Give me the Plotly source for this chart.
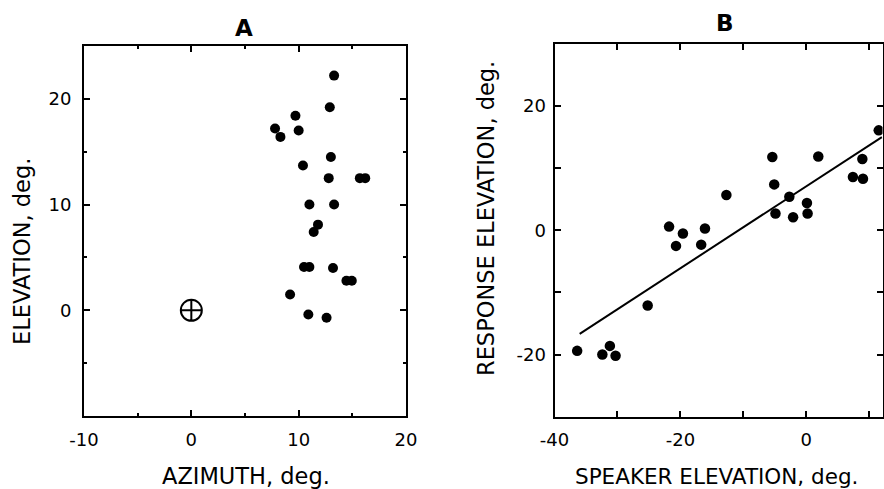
import plotly.graph_objects as go

# ---- Panel A data: response positions (azimuth, elevation) ----
a_azimuth = [13.3, 12.9, 9.7, 7.8, 8.3, 10.0, 13.0, 10.4, 12.8, 15.7, 16.2, 11.0, 13.3,
             11.8, 11.4, 10.5, 11.0, 13.2, 14.45, 14.95, 9.2, 10.9, 12.6]
a_elevation = [22.2, 19.2, 18.4, 17.2, 16.4, 17.0, 14.5, 13.7, 12.5, 12.5, 12.5, 10.0, 10.0,
               8.1, 7.4, 4.1, 4.1, 4.0, 2.8, 2.8, 1.5, -0.4, -0.7]
a_target_x = [0]
a_target_y = [0]

# ---- Panel B data: speaker elevation vs response elevation ----
b_speaker = [-36.4, -32.4, -31.2, -30.3, -25.2, -21.8, -20.7, -19.6, -16.7, -16.1, -12.7,
             -5.4, -5.1, -4.9, -2.7, -2.1, 0.1, 0.2, 1.9, 7.4, 8.9, 9.0, 11.5]
b_response = [-19.4, -20.0, -18.6, -20.2, -12.1, 0.6, -2.5, -0.5, -2.3, 0.3, 5.7,
              11.8, 7.4, 2.7, 5.4, 2.1, 4.4, 2.7, 11.9, 8.6, 11.5, 8.3, 16.1]
fit_slope = 0.66
fit_intercept = 7.1
fit_x = [-36.0, 12.0]
fit_y = [fit_slope * v + fit_intercept for v in fit_x]

# ---- tick labels ----
a_xticks = [-10, 0, 10, 20]
a_xtext = ["-10", "0", "10", "20"]
a_yticks = [0, 10, 20]
a_ytext = ["0", "10", "20"]
b_xticks = [-40, -30, -20, -10, 0, 10]
b_xtext = ["-40", "", "-20", "", "0", ""]
b_yticks = [-20, -10, 0, 10, 20]
b_ytext = ["-20", "", "0", "", "20"]

FONT = "DejaVu Sans"
TICKFONT = dict(family=FONT, size=18, color="black")

fig = go.Figure()
fig.add_trace(go.Scatter(x=a_azimuth, y=a_elevation, mode="markers",
                         marker=dict(size=10, color="black"), xaxis="x", yaxis="y",
                         showlegend=False))
fig.add_trace(go.Scatter(x=a_target_x, y=a_target_y, mode="markers",
                         marker=dict(size=21, symbol="circle-cross-open", color="black",
                                     line=dict(width=2, color="black")),
                         xaxis="x", yaxis="y", showlegend=False))
fig.add_trace(go.Scatter(x=fit_x, y=fit_y, mode="lines", line=dict(color="black", width=2),
                         xaxis="x2", yaxis="y2", showlegend=False))
fig.add_trace(go.Scatter(x=b_speaker, y=b_response, mode="markers",
                         marker=dict(size=10.5, color="black"), xaxis="x2", yaxis="y2",
                         showlegend=False))

common = dict(showline=True, linewidth=2, linecolor="black", mirror="ticks",
              ticks="inside", tickcolor="black", tickwidth=1.5, showgrid=False,
              zeroline=False, tickfont=TICKFONT, fixedrange=True, automargin=False)

fig.update_layout(
    template="none",
    width=884, height=489,
    margin=dict(l=0, r=0, t=0, b=0, pad=0),
    paper_bgcolor="white", plot_bgcolor="white",
    xaxis=dict(domain=[84 / 884, 406 / 884], range=[-10, 20], anchor="y",
               tickmode="array", tickvals=a_xticks, ticktext=a_xtext, ticklen=6,
               minor=dict(dtick=5, tick0=0, ticklen=3, ticks="inside", tickcolor="black",
                          tickwidth=1.5),
               ticklabelstandoff=6, **common),
    yaxis=dict(domain=[1 - 416 / 489, 1 - 46 / 489], range=[-10, 25], anchor="x",
               tickmode="array", tickvals=a_yticks, ticktext=a_ytext, ticklen=6,
               minor=dict(dtick=5, tick0=0, ticklen=3, ticks="inside", tickcolor="black",
                          tickwidth=1.5),
               ticklabelstandoff=7, **common),
    xaxis2=dict(domain=[554.5 / 884, 882.5 / 884], range=[-40, 12.1], anchor="y2",
                tickmode="array", tickvals=b_xticks, ticktext=b_xtext, ticklen=6,
                ticklabelstandoff=6, **common),
    yaxis2=dict(domain=[1 - 416.7 / 489, 1 - 44 / 489], range=[-30, 30], anchor="x2",
                tickmode="array", tickvals=b_yticks, ticktext=b_ytext, ticklen=6,
                ticklabelstandoff=3, **common),
)

def ann(text, x, y, size, bold=False, angle=0):
    fig.add_annotation(text=f"<b>{text}</b>" if bold else text, x=x / 884, y=1 - y / 489,
                       xref="paper", yref="paper", showarrow=False, textangle=angle,
                       xanchor="center", yanchor="middle", borderpad=0,
                       font=dict(family=FONT, size=size, color="black"))

ann("A", 244, 28, 23, bold=True)
ann("B", 725, 23, 23, bold=True)
ann("AZIMUTH, deg.", 245.5, 476, 22.5)
ann("ELEVATION, deg.", 22, 252, 22.5, angle=-90)
ann("SPEAKER ELEVATION, deg.", 716, 476, 21.5)
ann("RESPONSE ELEVATION, deg.", 486, 219, 22.5, angle=-90)

fig.write_html("out.html", config={"displayModeBar": False},
               post_script="document.body.style.margin='0px';")
